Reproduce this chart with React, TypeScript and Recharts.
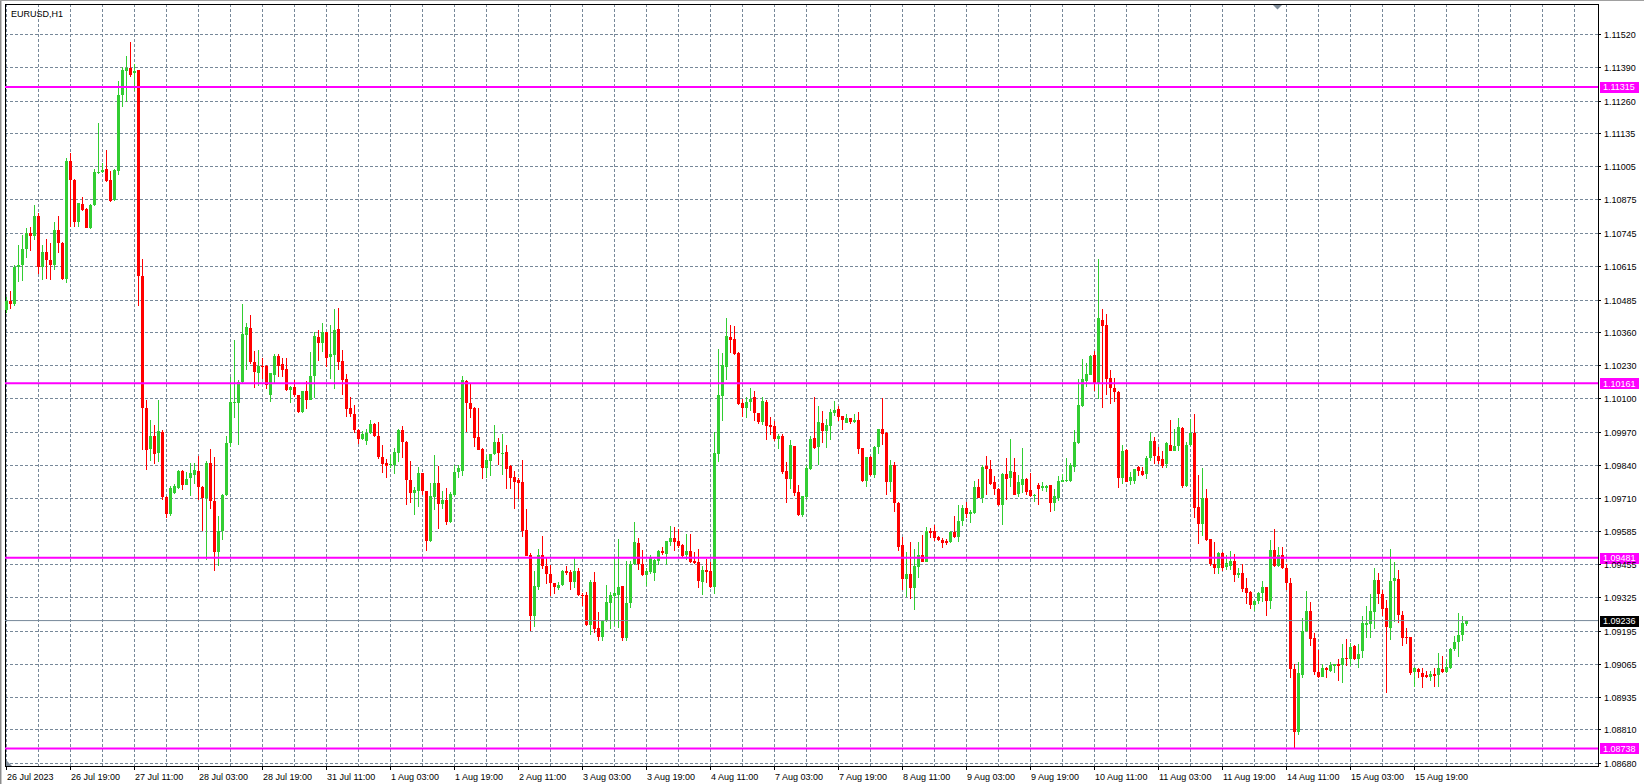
import React from 'react';
import { ComposedChart, Bar, XAxis, YAxis, CartesianGrid, ReferenceLine, Customized } from 'recharts';

const SYMBOL_TITLE = 'EURUSD,H1';

const DATE_LABELS = [
  '26 Jul 2023', '26 Jul 19:00', '27 Jul 11:00', '28 Jul 03:00', '28 Jul 19:00', '31 Jul 11:00',
  '1 Aug 03:00', '1 Aug 19:00', '2 Aug 11:00', '3 Aug 03:00', '3 Aug 19:00', '4 Aug 11:00',
  '7 Aug 03:00', '7 Aug 19:00', '8 Aug 11:00', '9 Aug 03:00', '9 Aug 19:00', '10 Aug 11:00',
  '11 Aug 03:00', '11 Aug 19:00', '14 Aug 11:00', '15 Aug 03:00', '15 Aug 19:00',
];

const PRICE_TICKS = [
  1.1152, 1.1139, 1.1126, 1.11135, 1.11005, 1.10875, 1.10745, 1.10615, 1.10485, 1.1036, 1.1023, 1.101,
  1.0997, 1.0984, 1.0971, 1.09585, 1.09455, 1.09325, 1.09195, 1.09065, 1.08935, 1.0881, 1.0868,
];

const LEVELS = [1.11315, 1.10161, 1.09481, 1.08738];
const LAST_PRICE = 1.09236;

const OPEN = [
  1.10447,1.10482,1.10469,1.10613,1.10623,1.10682,1.10746,1.10735,1.10812,1.10613,
  1.10671,1.10640,1.10621,1.10756,1.10707,1.10566,1.11027,1.10953,1.10790,1.10859,
  1.10840,1.10767,1.10855,1.10978,1.10982,1.10996,1.10953,1.10875,1.10988,1.11282,
  1.11377,1.11389,1.11369,1.11380,1.10580,1.10066,1.09906,1.09956,1.09890,1.09971,
  1.09717,1.09652,1.09733,1.09753,1.09819,1.09765,1.09791,1.09804,1.09820,1.09758,
  1.09715,1.09851,1.09700,1.09504,1.09585,1.09726,1.09929,1.10082,1.10083,1.10165,
  1.10349,1.10375,1.10243,1.10200,1.10228,1.10228,1.10114,1.10194,1.10266,1.10234,
  1.10215,1.10134,1.10148,1.10114,1.10048,1.10129,1.10097,1.10187,1.10341,1.10318,
  1.10359,1.10262,1.10269,1.10371,1.10246,1.10176,1.10063,1.10039,1.09979,1.09942,
  1.09934,1.09967,1.10002,1.09955,1.09873,1.09850,1.09841,1.09844,1.09890,1.09979,
  1.09932,1.09784,1.09732,1.09740,1.09810,1.09740,1.09548,1.09718,1.09771,1.09690,
  1.09707,1.09619,1.09725,1.09816,1.09820,1.10170,1.10082,1.10065,1.09951,1.09906,
  1.09829,1.09858,1.09884,1.09932,1.09889,1.09893,1.09837,1.09796,1.09782,1.09775,
  1.09588,1.09490,1.09255,1.09368,1.09492,1.09450,1.09418,1.09382,1.09362,1.09374,
  1.09431,1.09425,1.09387,1.09429,1.09337,1.09335,1.09220,1.09386,1.09207,1.09174,
  1.09233,1.09304,1.09331,1.09337,1.09370,1.09168,1.09305,1.09455,1.09538,1.09455,
  1.09415,1.09426,1.09420,1.09470,1.09509,1.09496,1.09543,1.09558,1.09546,1.09530,
  1.09491,1.09509,1.09468,1.09464,1.09387,1.09435,1.09429,1.09366,1.09885,1.10110,
  1.10224,1.10341,1.10332,1.10279,1.10084,1.10066,1.10088,1.10108,1.10043,1.10010,
  1.10088,1.09998,1.09995,1.09945,1.09955,1.09819,1.09788,1.09915,1.09736,1.09646,
  1.09717,1.09825,1.09946,1.09912,1.10006,1.09975,1.09994,1.10046,1.10062,1.10032,
  1.10006,1.10024,1.10008,1.10018,1.09907,1.09779,1.09873,1.09803,1.09912,1.09981,
  1.09967,1.09777,1.09841,1.09696,1.09529,1.09397,1.09418,1.09362,1.09444,1.09490,
  1.09466,1.09584,1.09584,1.09561,1.09551,1.09545,1.09544,1.09580,1.09560,1.09623,
  1.09675,1.09651,1.09655,1.09756,1.09714,1.09837,1.09827,1.09777,1.09749,1.09685,
  1.09808,1.09792,1.09816,1.09730,1.09766,1.09788,1.09745,1.09720,1.09766,1.09753,
  1.09753,1.09763,1.09694,1.09714,1.09777,1.09779,1.09779,1.09835,1.09928,1.10073,
  1.10170,1.10194,1.10271,1.10157,1.10409,1.10389,1.10181,1.10144,1.10126,1.09790,
  1.09902,1.09781,1.09778,1.09833,1.09820,1.09807,1.09868,1.09935,1.09879,1.09866,
  1.09846,1.09920,1.09898,1.09918,1.09987,1.09761,1.09922,1.09966,1.09677,1.09614,
  1.09713,1.09553,1.09455,1.09439,1.09500,1.09443,1.09448,1.09468,1.09412,1.09422,
  1.09363,1.09348,1.09296,1.09314,1.09345,1.09366,1.09312,1.09511,1.09448,1.09490,
  1.09439,1.09383,1.09046,1.08802,1.09025,1.09197,1.09275,1.09168,1.09036,1.09018,
  1.09053,1.09040,1.09060,1.09066,1.09062,1.09092,1.09086,1.09137,1.09088,1.09118,
  1.09220,1.09223,1.09268,1.09395,1.09340,1.09285,1.09207,1.09392,1.09399,1.09258,
  1.09171,1.09171,1.09034,1.09047,1.09030,1.09025,1.09017,1.09027,1.09023,1.09049,
  1.09034,1.09053,1.09125,1.09151,1.09181,1.09223,
];

const HIGH = [
  1.10495,1.10521,1.10623,1.10699,1.10738,1.10764,1.10769,1.10855,1.10825,1.10699,
  1.10721,1.10707,1.10789,1.10811,1.10710,1.11039,1.11057,1.10957,1.10863,1.10887,
  1.10845,1.10859,1.10995,1.11176,1.11017,1.11070,1.10988,1.10995,1.11337,1.11393,
  1.11434,1.11489,1.11403,1.11382,1.10643,1.10095,1.10019,1.09997,1.10095,1.09978,
  1.09720,1.09760,1.09769,1.09824,1.09822,1.09815,1.09851,1.09851,1.09878,1.09760,
  1.09859,1.09906,1.09874,1.09642,1.09728,1.09957,1.10185,1.10331,1.10172,1.10470,
  1.10396,1.10426,1.10285,1.10289,1.10260,1.10230,1.10201,1.10273,1.10276,1.10260,
  1.10258,1.10151,1.10172,1.10116,1.10131,1.10168,1.10283,1.10361,1.10367,1.10396,
  1.10361,1.10386,1.10449,1.10455,1.10289,1.10195,1.10107,1.10074,1.09981,1.09976,
  1.09981,1.10018,1.10005,1.10011,1.09921,1.09864,1.09881,1.09907,1.09984,1.09994,
  1.09935,1.09857,1.09756,1.09834,1.09812,1.09742,1.09773,1.09881,1.09838,1.09740,
  1.09753,1.09737,1.09842,1.09844,1.10190,1.10173,1.10157,1.10067,1.10063,1.09910,
  1.09883,1.09886,1.09998,1.09949,1.09962,1.09920,1.09844,1.09818,1.09792,1.09863,
  1.09671,1.09499,1.09431,1.09516,1.09564,1.09485,1.09453,1.09384,1.09388,1.09435,
  1.09448,1.09434,1.09483,1.09439,1.09344,1.09348,1.09396,1.09425,1.09268,1.09238,
  1.09374,1.09346,1.09481,1.09555,1.09372,1.09468,1.09468,1.09620,1.09559,1.09512,
  1.09439,1.09491,1.09475,1.09512,1.09522,1.09548,1.09603,1.09601,1.09594,1.09533,
  1.09572,1.09572,1.09504,1.09513,1.09448,1.09477,1.09464,1.09972,1.10296,1.10279,
  1.10416,1.10387,1.10383,1.10281,1.10100,1.10108,1.10144,1.10131,1.10045,1.10108,
  1.10094,1.10030,1.10014,1.09964,1.09962,1.09854,1.09940,1.09917,1.09764,1.09723,
  1.09842,1.09955,1.10108,1.10073,1.10053,1.10021,1.10060,1.10092,1.10073,1.10034,
  1.10040,1.10026,1.10040,1.10049,1.09909,1.09875,1.09877,1.09916,1.09983,1.10103,
  1.09972,1.09862,1.09854,1.09698,1.09560,1.09503,1.09542,1.09513,1.09543,1.09568,
  1.09599,1.09597,1.09608,1.09567,1.09558,1.09555,1.09584,1.09642,1.09685,1.09688,
  1.09697,1.09668,1.09779,1.09788,1.09842,1.09877,1.09861,1.09801,1.09751,1.09810,
  1.09868,1.09942,1.09868,1.09805,1.09907,1.09790,1.09810,1.09729,1.09773,1.09777,
  1.09763,1.09766,1.09747,1.09799,1.09809,1.09870,1.09851,1.09979,1.10177,1.10255,
  1.10239,1.10271,1.10288,1.10646,1.10451,1.10431,1.10212,1.10183,1.10130,1.09922,
  1.09905,1.09813,1.09828,1.09839,1.09836,1.09879,1.09972,1.09950,1.09911,1.09898,
  1.09931,1.10016,1.09983,1.10025,1.09989,1.09931,1.10022,1.10042,1.09804,1.09830,
  1.09748,1.09555,1.09544,1.09502,1.09502,1.09491,1.09507,1.09494,1.09442,1.09455,
  1.09400,1.09350,1.09316,1.09348,1.09392,1.09368,1.09550,1.09592,1.09524,1.09524,
  1.09457,1.09400,1.09066,1.09075,1.09246,1.09353,1.09308,1.09188,1.09121,1.09066,
  1.09055,1.09073,1.09068,1.09088,1.09145,1.09164,1.09147,1.09139,1.09145,1.09255,
  1.09294,1.09338,1.09442,1.09422,1.09356,1.09318,1.09516,1.09465,1.09434,1.09275,
  1.09206,1.09173,1.09055,1.09053,1.09053,1.09040,1.09040,1.09053,1.09108,1.09099,
  1.09086,1.09128,1.09177,1.09266,1.09255,1.09238,
];

const LOW = [
  1.10434,1.10450,1.10460,1.10555,1.10558,1.10649,1.10675,1.10717,1.10587,1.10561,
  1.10565,1.10563,1.10602,1.10668,1.10563,1.10552,1.10769,1.10769,1.10769,1.10832,
  1.10764,1.10761,1.10853,1.10975,1.10979,1.10945,1.10866,1.10872,1.10973,1.11236,
  1.11256,1.11353,1.11299,1.10460,1.09902,1.09824,1.09858,1.09847,1.09854,1.09704,
  1.09635,1.09645,1.09730,1.09750,1.09746,1.09763,1.09722,1.09767,1.09705,1.09585,
  1.09473,1.09672,1.09431,1.09448,1.09551,1.09720,1.09914,1.10024,1.09919,1.10161,
  1.10213,1.10237,1.10142,1.10151,1.10177,1.10138,1.10086,1.10159,1.10186,1.10185,
  1.10130,1.10083,1.10109,1.10045,1.10044,1.10060,1.10095,1.10104,1.10247,1.10283,
  1.10224,1.10177,1.10138,1.10213,1.10114,1.10028,1.10028,1.09966,1.09924,1.09940,
  1.09919,1.09963,1.09951,1.09864,1.09811,1.09792,1.09829,1.09808,1.09855,1.09871,
  1.09688,1.09694,1.09646,1.09677,1.09724,1.09509,1.09544,1.09668,1.09593,1.09671,
  1.09610,1.09617,1.09720,1.09792,1.09799,1.09971,1.10024,1.09912,1.09900,1.09788,
  1.09792,1.09801,1.09880,1.09841,1.09803,1.09749,1.09749,1.09671,1.09711,1.09561,
  1.09486,1.09195,1.09212,1.09354,1.09438,1.09378,1.09333,1.09338,1.09355,1.09372,
  1.09413,1.09356,1.09364,1.09331,1.09292,1.09213,1.09181,1.09187,1.09157,1.09155,
  1.09231,1.09203,1.09213,1.09207,1.09157,1.09157,1.09285,1.09452,1.09434,1.09409,
  1.09372,1.09419,1.09392,1.09452,1.09491,1.09452,1.09526,1.09509,1.09520,1.09481,
  1.09474,1.09462,1.09457,1.09364,1.09337,1.09383,1.09364,1.09340,1.09852,1.10013,
  1.10174,1.10279,1.10270,1.10074,1.10028,1.10027,1.10053,1.10014,1.10001,1.09997,
  1.09941,1.09959,1.09936,1.09906,1.09808,1.09693,1.09749,1.09723,1.09642,1.09640,
  1.09704,1.09823,1.09906,1.09842,1.09929,1.09910,1.09941,1.10034,1.10014,1.09980,
  1.10004,1.10001,1.10005,1.09884,1.09775,1.09757,1.09799,1.09790,1.09886,1.09920,
  1.09725,1.09736,1.09658,1.09506,1.09354,1.09329,1.09320,1.09277,1.09401,1.09464,
  1.09464,1.09557,1.09546,1.09546,1.09520,1.09530,1.09540,1.09557,1.09544,1.09603,
  1.09636,1.09616,1.09653,1.09712,1.09694,1.09724,1.09763,1.09727,1.09681,1.09607,
  1.09705,1.09756,1.09724,1.09717,1.09733,1.09727,1.09718,1.09698,1.09685,1.09740,
  1.09737,1.09659,1.09664,1.09703,1.09775,1.09777,1.09777,1.09816,1.09923,1.10070,
  1.10148,1.10191,1.10131,1.10099,1.10066,1.10116,1.10079,1.10089,1.09752,1.09770,
  1.09774,1.09765,1.09768,1.09800,1.09800,1.09787,1.09859,1.09846,1.09846,1.09830,
  1.09830,1.09896,1.09896,1.09896,1.09752,1.09755,1.09918,1.09637,1.09536,1.09566,
  1.09546,1.09448,1.09418,1.09416,1.09431,1.09435,1.09435,1.09387,1.09403,1.09348,
  1.09301,1.09283,1.09272,1.09301,1.09309,1.09253,1.09283,1.09446,1.09446,1.09437,
  1.09357,1.09011,1.08738,1.08792,1.09012,1.09190,1.09138,1.09025,1.09014,1.09015,
  1.09014,1.09034,1.09030,1.09001,1.08991,1.09060,1.09060,1.09084,1.09051,1.09090,
  1.09168,1.09168,1.09203,1.09301,1.09255,1.08955,1.09161,1.09229,1.09225,1.09138,
  1.09145,1.09025,1.08979,1.09012,1.08975,1.09012,1.09001,1.08979,1.08979,1.09032,
  1.09032,1.09047,1.09118,1.09095,1.09155,1.09215,
];

const CLOSE = [
  1.10482,1.10469,1.10613,1.10623,1.10682,1.10746,1.10735,1.10812,1.10613,1.10671,
  1.10640,1.10621,1.10756,1.10707,1.10566,1.11027,1.10953,1.10790,1.10861,1.10836,
  1.10767,1.10855,1.10984,1.10984,1.10992,1.10949,1.10871,1.10992,1.11282,1.11383,
  1.11389,1.11360,1.11378,1.10578,1.10066,1.09902,1.09956,1.09886,1.09975,1.09717,
  1.09652,1.09753,1.09760,1.09819,1.09765,1.09789,1.09812,1.09822,1.09758,1.09715,
  1.09851,1.09700,1.09504,1.09585,1.09726,1.09929,1.10086,1.10086,1.10165,1.10352,
  1.10379,1.10243,1.10204,1.10228,1.10224,1.10153,1.10199,1.10266,1.10228,1.10211,
  1.10133,1.10146,1.10114,1.10048,1.10129,1.10097,1.10190,1.10344,1.10318,1.10362,
  1.10259,1.10273,1.10367,1.10242,1.10172,1.10060,1.10039,1.09979,1.09942,1.09963,
  1.09967,1.10002,1.09955,1.09873,1.09847,1.09837,1.09847,1.09894,1.09979,1.09932,
  1.09784,1.09732,1.09744,1.09810,1.09740,1.09548,1.09720,1.09771,1.09690,1.09707,
  1.09619,1.09730,1.09816,1.09831,1.10173,1.10082,1.10062,1.09949,1.09902,1.09831,
  1.09861,1.09884,1.09932,1.09890,1.09890,1.09827,1.09792,1.09777,1.09773,1.09584,
  1.09488,1.09255,1.09372,1.09492,1.09447,1.09417,1.09382,1.09368,1.09374,1.09431,
  1.09421,1.09387,1.09429,1.09337,1.09335,1.09220,1.09386,1.09203,1.09174,1.09236,
  1.09307,1.09335,1.09342,1.09366,1.09168,1.09305,1.09455,1.09542,1.09455,1.09415,
  1.09429,1.09478,1.09473,1.09509,1.09500,1.09546,1.09558,1.09543,1.09526,1.09487,
  1.09509,1.09465,1.09460,1.09389,1.09435,1.09426,1.09366,1.09889,1.10113,1.10230,
  1.10344,1.10328,1.10274,1.10081,1.10066,1.10088,1.10099,1.10043,1.10010,1.10092,
  1.09995,1.09991,1.09945,1.09955,1.09815,1.09788,1.09920,1.09732,1.09646,1.09721,
  1.09832,1.09945,1.09910,1.10010,1.09975,1.09998,1.10049,1.10057,1.10030,1.10017,
  1.10024,1.10008,1.10018,1.09906,1.09779,1.09873,1.09803,1.09912,1.09981,1.09964,
  1.09777,1.09841,1.09693,1.09522,1.09397,1.09418,1.09362,1.09449,1.09490,1.09466,
  1.09584,1.09577,1.09557,1.09551,1.09540,1.09540,1.09580,1.09560,1.09623,1.09675,
  1.09651,1.09658,1.09756,1.09714,1.09834,1.09827,1.09770,1.09747,1.09685,1.09808,
  1.09788,1.09818,1.09727,1.09777,1.09788,1.09736,1.09720,1.09727,1.09747,1.09760,
  1.09760,1.09694,1.09720,1.09779,1.09783,1.09784,1.09842,1.09930,1.10076,1.10177,
  1.10196,1.10268,1.10157,1.10413,1.10385,1.10177,1.10142,1.10126,1.09790,1.09898,
  1.09777,1.09796,1.09826,1.09817,1.09804,1.09869,1.09937,1.09879,1.09859,1.09839,
  1.09927,1.09898,1.09918,1.09989,1.09761,1.09922,1.09967,1.09674,1.09614,1.09713,
  1.09549,1.09455,1.09439,1.09500,1.09439,1.09461,1.09468,1.09413,1.09422,1.09361,
  1.09345,1.09296,1.09314,1.09345,1.09366,1.09312,1.09511,1.09448,1.09490,1.09439,
  1.09383,1.09046,1.08802,1.09030,1.09197,1.09275,1.09164,1.09034,1.09017,1.09053,
  1.09043,1.09062,1.09066,1.09060,1.09092,1.09086,1.09134,1.09086,1.09105,1.09228,
  1.09225,1.09272,1.09395,1.09338,1.09281,1.09210,1.09392,1.09403,1.09258,1.09168,
  1.09168,1.09030,1.09053,1.09034,1.09017,1.09017,1.09027,1.09021,1.09053,1.09034,
  1.09056,1.09126,1.09151,1.09181,1.09227,1.09236,
];

const W = 1644;
const H = 784;
const PLOT_LEFT = 5;
const PLOT_TOP = 4;
const AXIS_W = 46;
const AXIS_H = 18;
const X_MIN = -0.375;
const X_MAX = 397.875;
const Y_MIN = 1.086695;
const Y_MAX = 1.116382;
const BARS_PER_LABEL = 16;
const BARS_PER_GRID = 8;
const GRID_TICKS: number[] = [];
for (let t = 0; t <= X_MAX; t += BARS_PER_GRID) GRID_TICKS.push(t);

const FONT = "'Liberation Sans', Arial, sans-serif";
const BULL = '#32CD32';
const BEAR = '#FF0000';
const GRID = '#778899';
const MAGENTA = '#FF00FF';

const data = OPEN.map((o, i) => ({
  i,
  o,
  h: HIGH[i],
  l: LOW[i],
  c: CLOSE[i],
  range: [LOW[i], HIGH[i]],
}));

const Candle = (props: any) => {
  const { x, y, width, height, payload } = props;
  if (!payload || x == null || y == null) return null;
  const { o, h, l, c } = payload;
  const yt = Math.min(y, y + height);
  const hh = Math.abs(height);
  const span = h - l;
  const py = (p: number) => (span > 0 ? yt + ((h - p) / span) * hh : yt);
  const center = x + width / 2;
  const col = Math.round(center - 0.5);
  const color = c >= o ? BULL : BEAR;
  const wTop = Math.round(yt);
  const wBot = Math.max(Math.round(yt + hh), wTop + 1);
  const bTop = Math.round(py(Math.max(o, c)));
  const bBot = Math.max(Math.round(py(Math.min(o, c))), bTop + 1);
  return (
    <g>
      <rect x={col} y={wTop} width={1} height={wBot - wTop} fill={color} />
      <rect x={col - 1} y={bTop} width={3} height={bBot - bTop} fill={color} />
    </g>
  );
};

const XTick = (props: any) => {
  const { x, y, payload } = props;
  const v = payload.value;
  if (v % BARS_PER_LABEL !== 0) return null;
  const label = DATE_LABELS[v / BARS_PER_LABEL];
  if (!label) return null;
  const px = Math.round(x - 0.5) + 0.5;
  return (
    <g>
      <line x1={px} x2={px} y1={y} y2={y + 4} stroke="#000" strokeWidth={1} />
      <text x={px + 0.5} y={y + 13.5} fontSize={9} fontFamily={FONT} fill="#000">
        {label}
      </text>
    </g>
  );
};

const YTick = (props: any) => {
  const { x, y, payload } = props;
  const py = Math.round(y - 0.5) + 0.5;
  return (
    <g>
      <line x1={x} x2={x + 3} y1={py} y2={py} stroke="#000" strokeWidth={1} />
      <text x={x + 6} y={y + 3.5} fontSize={9} fontFamily={FONT} fill="#000">
        {Number(payload.value).toFixed(5)}
      </text>
    </g>
  );
};

const PriceTag = (props: any) => {
  const { viewBox, text, bg } = props;
  if (!viewBox) return null;
  const bx = viewBox.x + viewBox.width + 2;
  const by = Math.round(viewBox.y) - 5;
  return (
    <g>
      <rect x={bx} y={by} width={39} height={11} fill={bg} />
      <text x={bx + 3} y={viewBox.y + 3.5} fontSize={9} fontFamily={FONT} fill="#FFFFFF">
        {text}
      </text>
    </g>
  );
};

const hLine = (p: any) => {
  const yy = Math.round(p.y1 - 0.5) + 0.5;
  return (
    <line key={p.key} x1={p.x1} x2={p.x2} y1={yy} y2={yy} stroke={GRID} strokeWidth={1} strokeDasharray="3 2" />
  );
};

const vLine = (p: any) => {
  const xx = Math.round(p.x1 - 0.5) + 0.5;
  return (
    <line key={p.key} x1={xx} x2={xx} y1={p.y1} y2={p.y2} stroke={GRID} strokeWidth={1} strokeDasharray="3 2" />
  );
};

const Frame = () => {
  const right = W - AXIS_W;
  const bottom = H - AXIS_H;
  return (
    <g>
      <rect x={PLOT_LEFT + 0.5} y={PLOT_TOP + 0.5} width={right - PLOT_LEFT} height={bottom - PLOT_TOP} fill="none" stroke="#000" strokeWidth={1} />
      <line x1={0.5} x2={0.5} y1={0} y2={H} stroke="#8c8c8c" strokeWidth={1} />
      <line x1={1.5} x2={1.5} y1={0} y2={H} stroke="#c8c8c8" strokeWidth={1} />
      <line x1={0} x2={W} y1={0.5} y2={0.5} stroke="#a0a0a0" strokeWidth={1} />
      <text x={11} y={16.5} fontSize={9} fontFamily={FONT} fill="#000">{SYMBOL_TITLE}</text>
      <polygon points="1273,5 1282,5 1277.5,9.5" fill="#7f8c99" />
      <polygon points="6,766 6,760 12,766" fill="#7f8c99" />
    </g>
  );
};

export default function App() {
  return (
    <div style={{ position: 'absolute', left: 0, top: 0, width: W, height: H, background: '#fff' }}>
      <ComposedChart
        width={W}
        height={H}
        data={data}
        margin={{ top: PLOT_TOP, right: 0, bottom: 0, left: PLOT_LEFT }}
      >
        <CartesianGrid horizontal={hLine} vertical={vLine} />
        <XAxis
          dataKey="i"
          type="number"
          domain={[X_MIN, X_MAX]}
          ticks={GRID_TICKS}
          interval={0}
          allowDataOverflow
          height={AXIS_H}
          axisLine={false}
          tickLine={false}
          tickSize={0}
          tickMargin={0}
          tick={<XTick />}
        />
        <YAxis
          orientation="right"
          type="number"
          domain={[Y_MIN, Y_MAX]}
          ticks={PRICE_TICKS}
          interval={0}
          allowDataOverflow
          width={AXIS_W}
          axisLine={false}
          tickLine={false}
          tickSize={0}
          tickMargin={0}
          tick={<YTick />}
        />
        <Bar dataKey="range" barSize={3} shape={<Candle />} isAnimationActive={false} />
        {LEVELS.map((lv) => (
          <ReferenceLine
            key={lv}
            y={lv}
            stroke={MAGENTA}
            strokeWidth={2}
            label={<PriceTag text={lv.toFixed(5)} bg={MAGENTA} />}
          />
        ))}
        <ReferenceLine
          y={LAST_PRICE}
          stroke="#778899"
          strokeWidth={1}
          label={<PriceTag text={LAST_PRICE.toFixed(5)} bg="#000000" />}
        />
        <Customized component={Frame} />
      </ComposedChart>
    </div>
  );
}
